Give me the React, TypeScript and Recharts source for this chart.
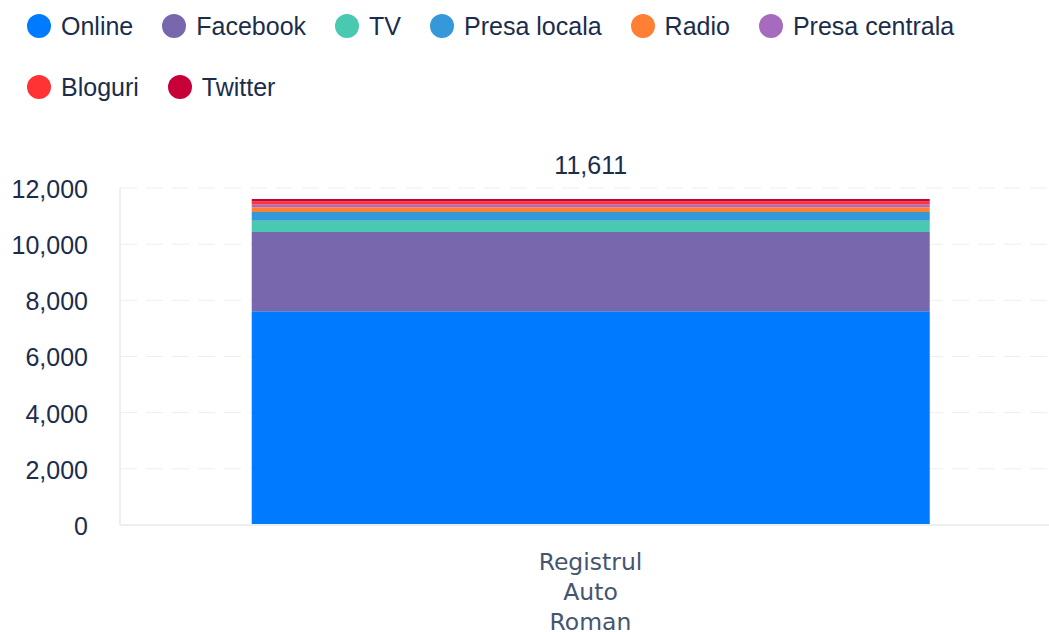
import React from 'react';
import { BarChart, Bar, XAxis, YAxis, CartesianGrid, Legend, LabelList } from 'recharts';

const categories = ['Registrul Auto Roman'];
const seriesNames = ['Online', 'Facebook', 'TV', 'Presa locala', 'Radio', 'Presa centrala', 'Bloguri', 'Twitter'];
const seriesColors = ['#007bff', '#7867ad', '#48c9b0', '#3498db', '#ff7f35', '#a66bbe', '#ff3333', '#c70039'];
const onlineValues = [7610];
const facebookValues = [2820];
const tvValues = [405];
const presaLocalaValues = [310];
const radioValues = [170];
const presaCentralaValues = [95];
const bloguriValues = [110];
const twitterValues = [91];
const yTicks = [0, 2000, 4000, 6000, 8000, 10000, 12000];

const seriesValues = [
  onlineValues,
  facebookValues,
  tvValues,
  presaLocalaValues,
  radioValues,
  presaCentralaValues,
  bloguriValues,
  twitterValues,
];

const data = categories.map((name, i) => {
  const row: Record<string, any> = { name };
  let total = 0;
  seriesNames.forEach((s, k) => {
    row[s] = seriesValues[k][i];
    total += seriesValues[k][i];
  });
  row.total = total;
  return row;
});

const TEXT = '#1b2d4b';
const FONT = '"Liberation Sans", Arial, sans-serif';

const LegendContent = () => (
  <div
    style={{
      display: 'flex',
      flexWrap: 'wrap',
      width: 1000,
      paddingLeft: 27,
      paddingTop: 8,
      rowGap: 25,
      height: 112,
      boxSizing: 'border-box',
      alignContent: 'flex-start',
    }}
  >
    {seriesNames.map((s, k) => (
      <div
        key={s}
        style={{ display: 'flex', alignItems: 'center', height: 36, marginRight: 29 }}
      >
        <span
          style={{
            width: 24,
            height: 24,
            borderRadius: 12,
            background: seriesColors[k],
            display: 'inline-block',
            marginRight: 10,
          }}
        />
        <span style={{ fontFamily: FONT, fontSize: 25, color: TEXT }}>{s}</span>
      </div>
    ))}
  </div>
);

const XTick = (props: any) => {
  const { x, y, payload } = props;
  const words = String(payload.value).split(' ');
  return (
    <g transform={`translate(${x},${y})`}>
      <text
        textAnchor="middle"
        fill="#44566f"
        fontFamily='"DejaVu Sans", sans-serif'
        fontSize={23.5}
      >
        {words.map((w, i) => (
          <tspan key={i} x={0} y={37 + i * 30}>
            {w}
          </tspan>
        ))}
      </text>
    </g>
  );
};

export default function App() {
  return (
    <div style={{ position: 'absolute', left: 0, top: 0, width: 1049, height: 632, overflow: 'hidden' }}>
      <BarChart
        width={1061}
        height={632}
        data={data}
        margin={{ top: 76, right: 0, bottom: 0, left: 0 }}
        barCategoryGap="14%"
      >
        <Legend
          verticalAlign="top"
          align="left"
          content={<LegendContent />}
          wrapperStyle={{ left: 0, top: 0, width: 1049 }}
        />
        <CartesianGrid vertical={false} stroke="#eeeeee" strokeDasharray="17 9" />
        <XAxis
          dataKey="name"
          height={107}
          axisLine={{ stroke: '#eceef1', strokeWidth: 2 }}
          tickLine={false}
          tick={<XTick />}
          interval={0}
        />
        <YAxis
          width={120}
          domain={[0, 12000]}
          ticks={yTicks}
          interval={0}
          axisLine={{ stroke: '#eceef1', strokeWidth: 2 }}
          tickLine={false}
          tickSize={0}
          tickMargin={32}
          tickFormatter={(v: number) => v.toLocaleString('en-US')}
          tick={{ fill: TEXT, fontSize: 25, fontFamily: FONT, dy: 1 }}
        />
        {seriesNames.map((s, k) => (
          <Bar key={s} dataKey={s} stackId="a" fill={seriesColors[k]} isAnimationActive={false}>
            {k === seriesNames.length - 1 && (
              <LabelList
                dataKey="total"
                position="top"
                offset={25}
                formatter={(v: any) => Number(v).toLocaleString('en-US')}
                style={{ fill: TEXT, fontSize: 25, fontFamily: FONT }}
              />
            )}
          </Bar>
        ))}
      </BarChart>
    </div>
  );
}
